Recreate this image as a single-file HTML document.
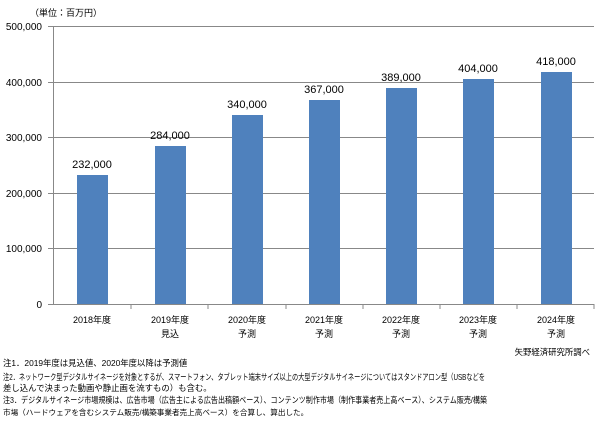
<!DOCTYPE html>
<html><head><meta charset="utf-8"><style>
body{margin:0;background:#fff;width:600px;height:432px;overflow:hidden;font-family:"Liberation Sans","Noto Sans CJK JP",sans-serif;}
svg text{font-family:"Liberation Sans","Noto Sans CJK JP",sans-serif;}
</style></head><body>
<svg width="600" height="432" xmlns="http://www.w3.org/2000/svg">
<text x="30" y="16" font-size="9" fill="#000">（単位：百万円）</text>
<g stroke="#888" stroke-width="1">
<line x1="53" y1="26.5" x2="594" y2="26.5"/>
<line x1="53" y1="82.5" x2="594" y2="82.5"/>
<line x1="53" y1="137.5" x2="594" y2="137.5"/>
<line x1="53" y1="193.5" x2="594" y2="193.5"/>
<line x1="53" y1="248.5" x2="594" y2="248.5"/>
<line x1="53.5" y1="26" x2="53.5" y2="304"/>
<line x1="48" y1="26.5" x2="53" y2="26.5"/>
<line x1="48" y1="82.5" x2="53" y2="82.5"/>
<line x1="48" y1="137.5" x2="53" y2="137.5"/>
<line x1="48" y1="193.5" x2="53" y2="193.5"/>
<line x1="48" y1="248.5" x2="53" y2="248.5"/>
<line x1="48" y1="304.5" x2="594" y2="304.5"/>
<line x1="131" y1="304" x2="131" y2="309"/>
<line x1="208" y1="304" x2="208" y2="309"/>
<line x1="286" y1="304" x2="286" y2="309"/>
<line x1="363" y1="304" x2="363" y2="309"/>
<line x1="440" y1="304" x2="440" y2="309"/>
<line x1="517" y1="304" x2="517" y2="309"/>
<line x1="594" y1="304" x2="594" y2="309"/>
</g>
<g font-size="10" fill="#000" text-anchor="end">
<text x="42" y="30">500,000</text>
<text x="42" y="86">400,000</text>
<text x="42" y="141">300,000</text>
<text x="42" y="197">200,000</text>
<text x="42" y="252">100,000</text>
<text x="42" y="308">0</text>
</g>
<g fill="#4f81bd">
<rect x="77" y="175" width="31" height="129"/>
<rect x="155" y="146" width="31" height="158"/>
<rect x="232" y="115" width="31" height="189"/>
<rect x="309" y="100" width="31" height="204"/>
<rect x="386" y="88" width="31" height="216"/>
<rect x="463" y="79" width="31" height="225"/>
<rect x="541" y="72" width="31" height="232"/>
</g>
<g font-size="11" fill="#000" text-anchor="middle">
<text x="92" y="168">232,000</text>
<text x="170" y="139">284,000</text>
<text x="247" y="108">340,000</text>
<text x="324" y="93">367,000</text>
<text x="401" y="81">389,000</text>
<text x="478" y="72">404,000</text>
<text x="556" y="65">418,000</text>
</g>
<g font-size="9" fill="#000" text-anchor="middle">
<text x="92" y="323">2018年度</text>
<text x="170" y="323">2019年度</text><text x="170" y="337">見込</text>
<text x="247" y="323">2020年度</text><text x="247" y="337">予測</text>
<text x="324" y="323">2021年度</text><text x="324" y="337">予測</text>
<text x="401" y="323">2022年度</text><text x="401" y="337">予測</text>
<text x="478" y="323">2023年度</text><text x="478" y="337">予測</text>
<text x="556" y="323">2024年度</text><text x="556" y="337">予測</text>
</g>
<g font-size="8.4" fill="#000">
<text x="590" y="355" text-anchor="end">矢野経済研究所調べ</text>
<text x="3" y="366">注1．2019年度は見込値、2020年度以降は予測値</text>
<text x="3" y="380" textLength="482" lengthAdjust="spacingAndGlyphs">注2．ネットワーク型デジタルサイネージを対象とするが、スマートフォン、タブレット端末サイズ以上の大型デジタルサイネージについてはスタンドアロン型（USBなどを</text>
<text x="3" y="391">差し込んで決まった動画や静止画を流すもの）も含む。</text>
<text x="3" y="403" textLength="484" lengthAdjust="spacingAndGlyphs">注3．デジタルサイネージ市場規模は、広告市場（広告主による広告出稿額ベース）、コンテンツ制作市場（制作事業者売上高ベース）、システム販売/構築</text>
<text x="3" y="415" font-size="7.6">市場（ハードウェアを含むシステム販売/構築事業者売上高ベース）を合算し、算出した。</text>
</g>
</svg>
</body></html>
